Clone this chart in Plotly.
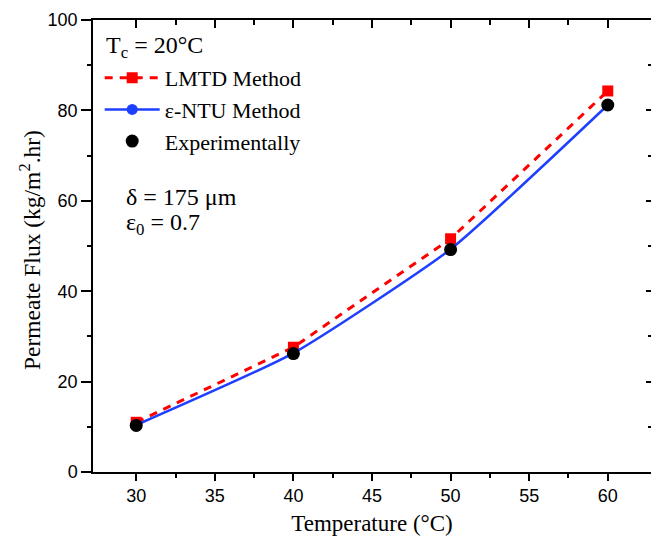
import plotly.graph_objects as go

temps = [30, 40, 50, 60]
lmtd = [11.0, 27.6, 51.6, 84.3]
ntu = [10.4, 26.3, 49.3, 81.2]
expt = [10.3, 26.2, 49.2, 81.2]

x_ticks = [30, 35, 40, 45, 50, 55, 60]
x_minor = [32.5, 37.5, 42.5, 47.5, 52.5, 57.5]
y_ticks = [0, 20, 40, 60, 80, 100]
y_minor = [10, 30, 50, 70, 90]

serif = "Liberation Serif"
sans = "Liberation Sans"
xr = [27.25, 62.75]

fig = go.Figure()
fig.add_trace(go.Scatter(x=temps, y=lmtd, mode="lines+markers", name="LMTD Method",
                         line=dict(color="#ff0000", width=3, dash="8px,7px"),
                         marker=dict(symbol="square", size=11, color="#ff0000")))
fig.add_trace(go.Scatter(x=temps, y=ntu, mode="lines+markers", name="ε-NTU Method",
                         line=dict(color="#1f3fff", width=2.5, shape="spline", smoothing=0.5),
                         marker=dict(symbol="circle", size=11, color="#1f3fff")))
fig.add_trace(go.Scatter(x=temps, y=expt, mode="markers", name="Experimentally",
                         marker=dict(symbol="circle", size=13, color="black")))

# mirrored axes with inside ticks
fig.add_trace(go.Scatter(x=[None], y=[None], xaxis="x2", yaxis="y2", showlegend=False))

fig.update_layout(
    width=651, height=547,
    margin=dict(l=93, r=0, t=20, b=75),
    paper_bgcolor="white", plot_bgcolor="white",
    showlegend=True,
    legend=dict(x=0.012, y=0.918, xanchor="left", yanchor="top",
                font=dict(family=serif, size=22, color="black"),
                bgcolor="rgba(0,0,0,0)", itemwidth=55, tracegroupgap=0),
    xaxis=dict(range=xr, tickvals=x_ticks,
               ticks="outside", ticklen=7, tickwidth=1.5, tickcolor="black",
               minor=dict(tickvals=x_minor, ticks="outside",
                          ticklen=4, tickwidth=1.5, tickcolor="black"),
               showline=True, linecolor="black", linewidth=1.5, showgrid=False, zeroline=False,
               tickfont=dict(family=sans, size=18, color="black"),
               title=dict(text="Temperature (°C)", font=dict(family=serif, size=23, color="black"),
                          standoff=10)),
    yaxis=dict(range=[0, 100], tickvals=y_ticks,
               ticks="outside", ticklen=10, tickwidth=1.5, tickcolor="black",
               minor=dict(tickvals=y_minor, ticks="outside",
                          ticklen=4, tickwidth=1.5, tickcolor="black"),
               showline=True, linecolor="black", linewidth=1.5, showgrid=False, zeroline=False,
               tickfont=dict(family=sans, size=18, color="black")),
    xaxis2=dict(overlaying="x", side="top", range=xr,
                tickvals=x_ticks, ticks="inside", ticklen=8, tickwidth=1.5,
                minor=dict(tickvals=x_minor, ticks="inside", ticklen=5, tickwidth=1.5,
                           tickcolor="black"),
                tickcolor="black", showticklabels=False, showline=True, linecolor="black",
                linewidth=1.5, showgrid=False, zeroline=False),
    yaxis2=dict(overlaying="y", side="right", range=[0, 100],
                tickvals=y_ticks, ticks="inside", ticklen=5, tickwidth=1.5,
                minor=dict(tickvals=y_minor, ticks="inside", ticklen=3, tickwidth=1.5,
                           tickcolor="black"),
                tickcolor="black", showticklabels=False, showline=False,
                showgrid=False, zeroline=False),
    annotations=[
        dict(text="Permeate Flux (kg/m<sup>2</sup>.hr)", xref="paper", yref="paper",
             x=-0.113, y=0.491, xanchor="center", yanchor="middle", textangle=-90,
             showarrow=False, font=dict(family=serif, size=23.5, color="black")),
        dict(text="T<sub>c</sub> = 20°C", xref="paper", yref="paper", x=0.02, y=0.94,
             xanchor="left", yanchor="middle", showarrow=False,
             font=dict(family=serif, size=24, color="black")),
        dict(text="δ = 175 μm", xref="paper", yref="paper", x=0.055, y=0.608,
             xanchor="left", yanchor="middle", showarrow=False,
             font=dict(family=serif, size=24, color="black")),
        dict(text="ε<sub>0</sub> = 0.7", xref="paper", yref="paper", x=0.055, y=0.548,
             xanchor="left", yanchor="middle", showarrow=False,
             font=dict(family=serif, size=24, color="black")),
    ],
)

fig.write_html("out.html")
